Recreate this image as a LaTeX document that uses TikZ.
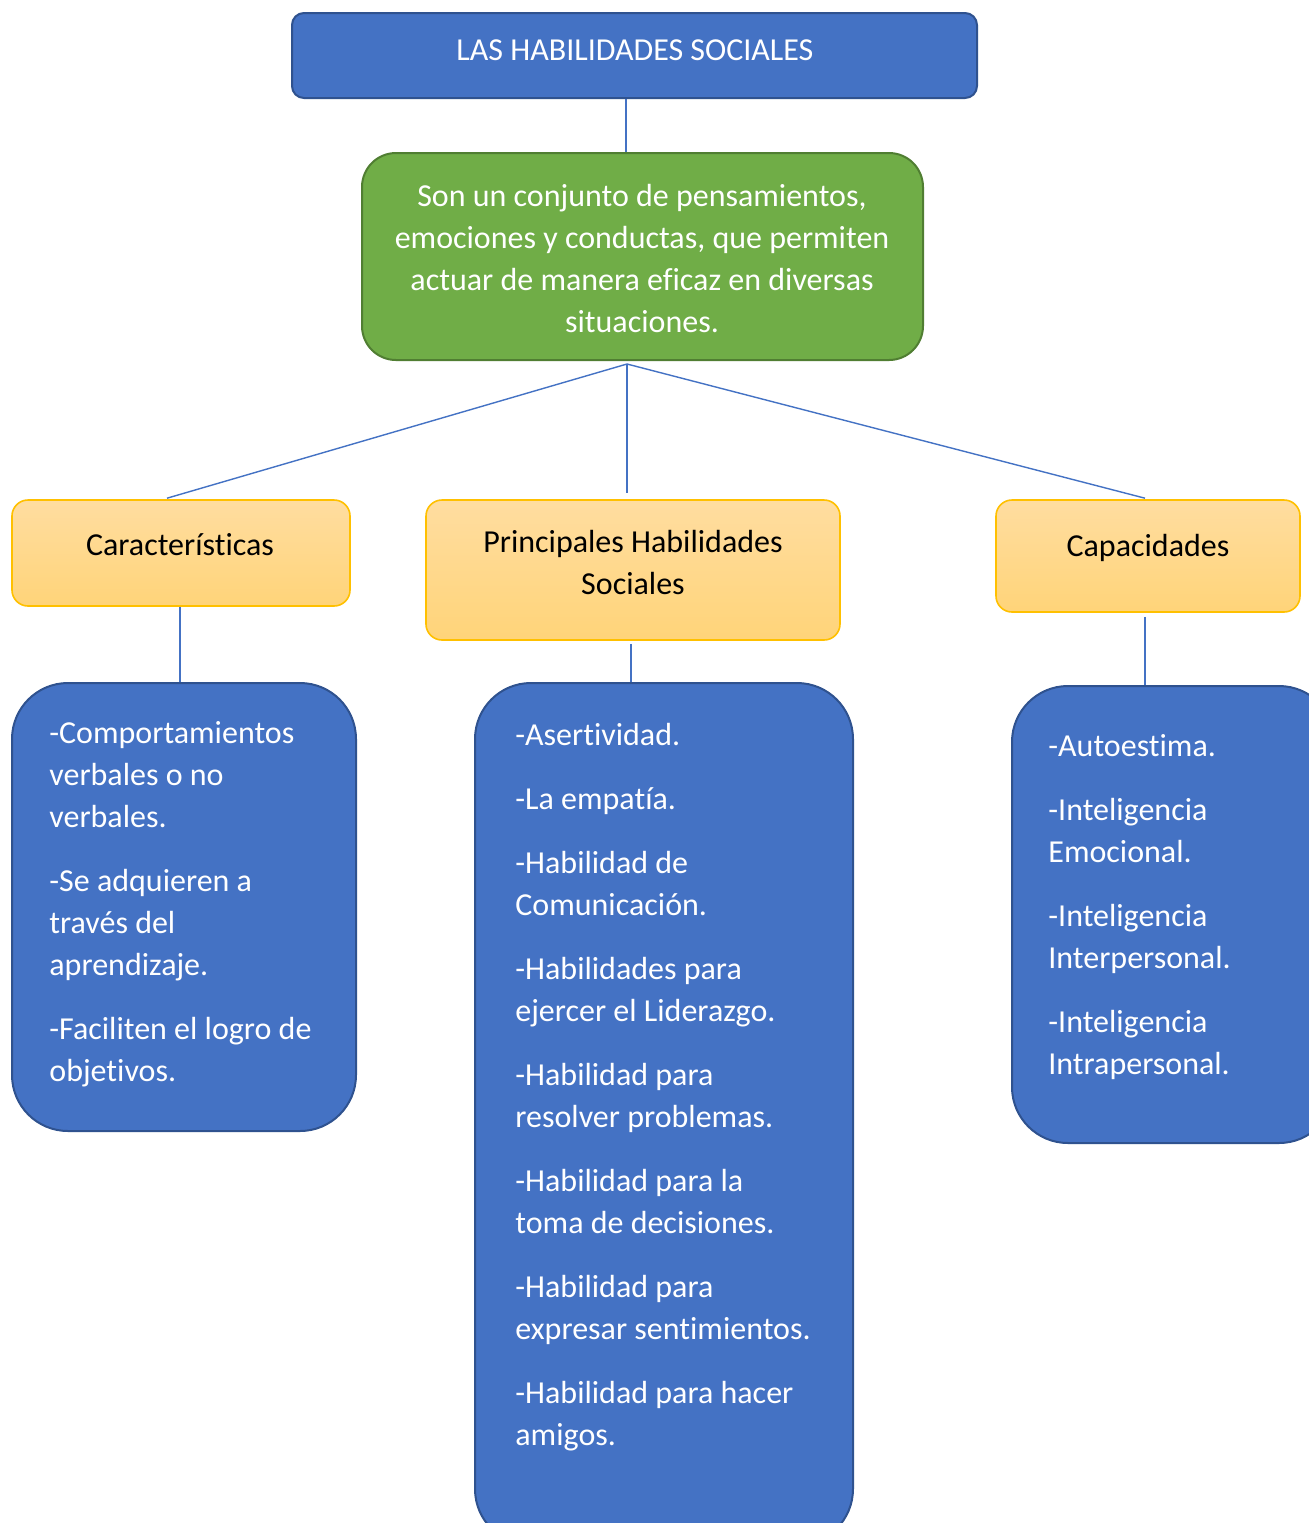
\documentclass[tikz,border=0pt]{standalone}
\usepackage{fontspec}
\setmainfont{Carlito}[Ligatures={NoCommon,NoRare,NoContextual}]
\usetikzlibrary{calc}
\definecolor{hsblue}{HTML}{4472C4}
\definecolor{hsblueline}{HTML}{2F528F}
\definecolor{hsgreen}{HTML}{70AD47}
\definecolor{hsgreenline}{HTML}{507E32}
\definecolor{hsgoldtop}{HTML}{FFDDA0}
\definecolor{hsgoldbot}{HTML}{FFD479}
\definecolor{hsgoldline}{HTML}{FFC000}
\tikzset{
  txt/.style={font=\fontsize{16}{21}\selectfont, inner sep=0pt},
  titlebox/.style={draw=hsblueline, fill=hsblue, line width=1pt, rounded corners=6pt, inner sep=0pt},
  defbox/.style={draw=hsgreenline, fill=hsgreen, line width=1pt, rounded corners=17pt, inner sep=0pt},
  catbox/.style={draw=hsgoldline, top color=hsgoldtop, bottom color=hsgoldbot, line width=0.8pt, rounded corners=8pt, inner sep=0pt},
  listbox/.style={draw=hsblueline, fill=hsblue, line width=1pt, rounded corners=28pt, inner sep=0pt},
  conn/.style={draw=hsblue, line width=0.7pt},
  listtxt/.style={txt, text=white, align=left, anchor=north west}
}
\begin{document}
\begin{tikzpicture}[x=0.5pt,y=-0.5pt]
\useasboundingbox (0,0) rectangle (1309,1523);
\clip (0,0) rectangle (1309,1523);
\fill[white] (0,0) rectangle (1309,1523);

% boxes
\node[titlebox, minimum width=342.5pt, minimum height=42.5pt] (title) at (634.5,55.5) {};
\node[defbox, minimum width=280.5pt, minimum height=103.5pt] (def) at (642.5,256.5) {};
\node[catbox, minimum width=169pt, minimum height=53pt] (car) at (181,553) {};
\node[catbox, minimum width=207pt, minimum height=70pt] (prin) at (633,570) {};
\node[catbox, minimum width=152pt, minimum height=56pt] (cap) at (1148,556) {};
\node[listbox, minimum width=172pt, minimum height=224pt] (carlist) at (184,907) {};
\node[listbox, minimum width=189pt, minimum height=431pt] (prinlist) at (664,1114) {};
\node[listbox, minimum width=161.5pt, minimum height=228.5pt] (caplist) at (1173.5,914.5) {};

% texts
\node[txt, text=white] (titletxt) at (635,50) {LAS HABILIDADES SOCIALES};
\node[txt, text=white, align=center] (deftxt) at (642,259) {Son un conjunto de pensamientos,\\emociones y conductas, que permiten\\actuar de manera eficaz en diversas\\situaciones.};
\node[txt, text=black] (cartxt) at (180,545) {Características};
\node[txt, text=black, align=center] (printxt) at (633,562) {Principales Habilidades\\Sociales};
\node[txt, text=black] (captxt) at (1148,548) {Capacidades};

\node[listtxt] (carlisttxt) at (49,713.6) {\strut-Comportamientos\\\strut verbales o no\\\strut verbales.\\[11pt]\strut-Se adquieren a\\\strut través del\\\strut aprendizaje.\\[11pt]\strut-Faciliten el logro de\\\strut objetivos.};
\node[listtxt] (prinlisttxt) at (515,715.6) {\strut-Asertividad.\\[11pt]\strut-La empatía.\\[11pt]\strut-Habilidad de\\\strut Comunicación.\\[11pt]\strut-Habilidades para\\\strut ejercer el Liderazgo.\\[11pt]\strut-Habilidad para\\\strut resolver problemas.\\[11pt]\strut-Habilidad para la\\\strut toma de decisiones.\\[11pt]\strut-Habilidad para\\\strut expresar sentimientos.\\[11pt]\strut-Habilidad para hacer\\\strut amigos.};
\node[listtxt] (caplisttxt) at (1048,726.6) {\strut-Autoestima.\\[11pt]\strut-Inteligencia\\\strut Emocional.\\[11pt]\strut-Inteligencia\\\strut Interpersonal.\\[11pt]\strut-Inteligencia\\\strut Intrapersonal.};

% connectors
\draw[conn] ($(title.south)+(-8.5,0)$) -- ($(def.north)+(-16.5,0)$);
\coordinate (hub) at ($(def.south)+(-15.5,3)$);
\draw[conn] (hub) -- ($(car.north)+(-14,-1)$);
\draw[conn] (hub) -- ($(prin.north)+(-6,-6)$);
\draw[conn] (hub) -- ($(cap.north)+(-3,-1)$);
\draw[conn] ($(car.south)+(-1,0)$) -- ($(carlist.north)+(-4,0)$);
\draw[conn] ($(prin.south)+(-2,3)$) -- ($(prinlist.north)+(-33,0)$);
\draw[conn] ($(cap.south)+(-3,4)$) -- ($(caplist.north)+(-28.5,0)$);
\end{tikzpicture}
\end{document}
